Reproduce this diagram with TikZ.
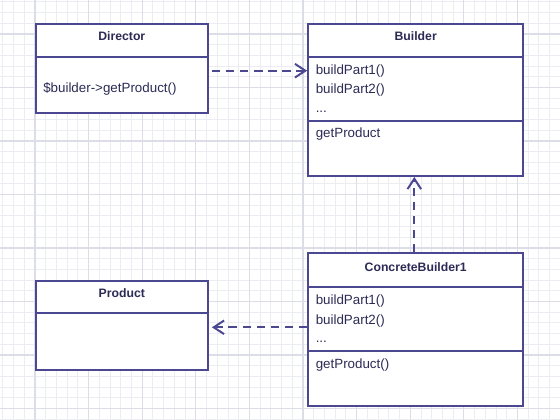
\documentclass[tikz,border=0pt]{standalone}
\usepackage{fontspec}
\setmainfont{Liberation Sans}
\usetikzlibrary{arrows.meta}

\definecolor{umlline}{HTML}{4B4790}
\definecolor{umltext}{HTML}{2B2B55}
\definecolor{gridminor}{HTML}{ECECF3}
\definecolor{gridmajor}{HTML}{DDDDE8}

\tikzset{
	classbox/.style={draw=umlline, line width=1.4pt, fill=white, inner sep=0pt},
	classname/.style={font=\fontsize{8.7}{10}\selectfont\bfseries, text=umltext, anchor=base, inner sep=0pt},
	member/.style={font=\fontsize{9.5}{11}\selectfont, text=umltext, anchor=base west, inner sep=0pt},
	divider/.style={draw=umlline, line width=1.4pt},
	depend/.style={draw=umlline, line width=1.4pt, dash pattern=on 6pt off 4pt,
		-{Straight Barb[length=2.6mm,width=3.4mm,line width=1.4pt]}},
}

\begin{document}
\begin{tikzpicture}[x=0.025cm, y=-0.025cm]
		
		\useasboundingbox (0,0) rectangle (560,420);
		\fill[white] (0,0) rectangle (560,420);
		
		% Draw the background grid
		\foreach \i in {-3,...,49}
		\draw[gridminor, line width=0.6pt] ({35+10.72*\i},0) -- ({35+10.72*\i},420);
		\foreach \j in {-3,...,37}
		\draw[gridminor, line width=0.6pt] (0,{34+10.7*\j}) -- (560,{34+10.7*\j});
		\foreach \i in {-1,...,10}
		\draw[gridmajor, line width=0.8pt] ({35+53.6*\i},0) -- ({35+53.6*\i},420);
		\foreach \j in {-1,...,7}
		\draw[gridmajor, line width=0.8pt] (0,{34+53.5*\j}) -- (560,{34+53.5*\j});
		
		% Draw the class boxes
		\node[classbox, minimum width=4.3cm, minimum height=2.225cm] (director) at (121.8,68.3) {};
		\node[classbox, minimum width=5.375cm, minimum height=3.8cm] (builder) at (415.7,99.9) {};
		\node[classbox, minimum width=5.375cm, minimum height=3.825cm] (concrete) at (415.7,329.8) {};
		\node[classbox, minimum width=4.3cm, minimum height=2.24cm] (product) at (121.8,325.4) {};
		
		% Draw the compartment lines
		\draw[divider] (director.west |- 0,57) -- (director.east |- 0,57);
		\draw[divider] (builder.west |- 0,57) -- (builder.east |- 0,57);
		\draw[divider] (builder.west |- 0,121.3) -- (builder.east |- 0,121.3);
		\draw[divider] (concrete.west |- 0,286.7) -- (concrete.east |- 0,286.7);
		\draw[divider] (concrete.west |- 0,351) -- (concrete.east |- 0,351);
		\draw[divider] (product.west |- 0,313.3) -- (product.east |- 0,313.3);
		
		% Label the class names
		\node[classname] (directorname) at (121.8,41) {Director};
		\node[classname] (buildername) at (415.7,41) {Builder};
		\node[classname] (concretename) at (415.7,271.5) {ConcreteBuilder1};
		\node[classname] (productname) at (121.8,297.5) {Product};
		
		% Label the members
		\node[member] (directorop) at (43,92.5) {\$builder->getProduct()};
		\node[member] (bpart1) at (315.5,74.5) {buildPart1()};
		\node[member] (bpart2) at (315.5,94) {buildPart2()};
		\node[member] (bdots) at (315.5,112.5) {...};
		\node[member] (bget) at (315.5,138) {getProduct};
		\node[member] (cpart1) at (315.5,304.5) {buildPart1()};
		\node[member] (cpart2) at (315.5,324) {buildPart2()};
		\node[member] (cdots) at (315.5,342.5) {...};
		\node[member] (cget) at (315.5,368.5) {getProduct()};
		
		% Draw the dependencies
		\draw[depend, shorten <=2.2pt] (director.east |- 0,70.7) -- (builder.west |- 0,70.7);
		\draw[depend] (concrete.north -| 414.3,0) -- (builder.south -| 414.3,0);
		\draw[depend, shorten >=2.2pt] (concrete.west |- 0,327.3) -- (product.east |- 0,327.3);
		
	\end{tikzpicture}
\end{document}
